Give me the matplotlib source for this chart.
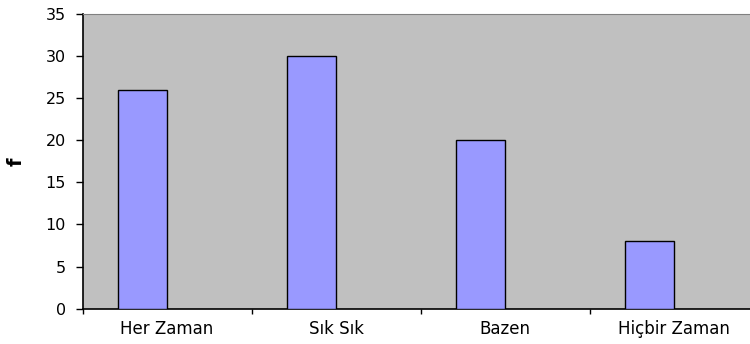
import matplotlib.pyplot as plt
import numpy as np

plt.rcParams['font.family'] = ['DejaVu Sans']

categories = ['Her Zaman', 'Sık Sık', 'Bazen', 'Hiçbir Zaman']
counts = [26, 30, 20, 8]
yticks = [0, 5, 10, 15, 20, 25, 30, 35]

fig = plt.figure(figsize=(7.5, 3.44), dpi=100)
ax = fig.add_axes([0.11, 0.1026, 0.902, 0.857])
ax.set_facecolor('#C0C0C0')

centers = np.arange(len(categories)) + 0.5
# bars sit just left of each category centre
ax.bar(centers, counts, width=-0.29, align='edge', color='#9999FF',
       edgecolor='black', linewidth=1.0, zorder=3)

ax.set_xlim(0, len(categories))
ax.set_ylim(0, 35)
ax.set_yticks(yticks)
ax.set_xticks(np.arange(len(categories) + 1))
ax.set_xticklabels([])
ax.set_xticks(centers, minor=True)
ax.set_xticklabels(categories, minor=True)
ax.tick_params(axis='x', which='minor', length=0, pad=8, labelsize=12)
ax.tick_params(axis='x', which='major', length=3.6, width=1)
ax.tick_params(axis='y', length=5, width=1, labelsize=11.5, pad=7)

for s in ['top', 'right']:
    ax.spines[s].set_color('#808080')
for s in ['left', 'bottom']:
    ax.spines[s].set_color('black')
    ax.spines[s].set_linewidth(1.2)

ax.set_ylabel('f', fontweight='bold', fontsize=14)
ax.yaxis.set_label_coords(-0.084, 0.5)

fig.savefig('out.png', dpi=100)
